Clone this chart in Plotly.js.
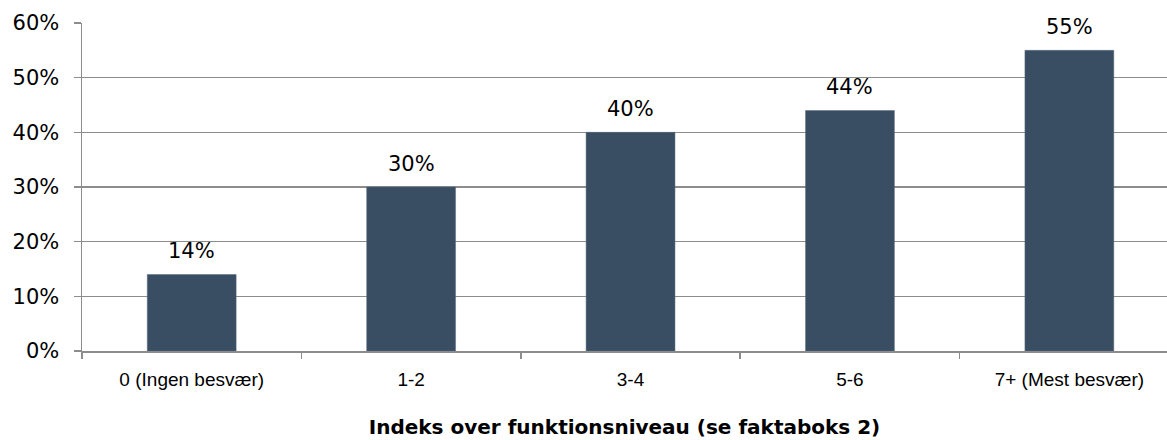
<!DOCTYPE html>
<html>
<head>
<meta charset="utf-8">
<script src="https://cdn.plot.ly/plotly-3.0.1.min.js"></script>
<style>html,body{margin:0;padding:0;background:#fff;}#chart{width:1167px;height:440px;}</style>
</head>
<body>
<div id="chart"></div>
<script>
const categories = ["0 (Ingen besvær)", "1-2", "3-4", "5-6", "7+ (Mest besvær)"];
const values = [0.14, 0.30, 0.40, 0.44, 0.55];
const valueLabels = ["14%", "30%", "40%", "44%", "55%"];
const yTickValues = [0, 0.1, 0.2, 0.3, 0.4, 0.5, 0.6];
const yTickLabels = ["0%", "10%", "20%", "30%", "40%", "50%", "60%"];
const xTitle = "Indeks over funktionsniveau (se faktaboks 2)";

const trace = {
  type: "bar",
  x: categories,
  y: values,
  width: 0.405,
  marker: {color: "#394E63", line: {color: "#5a6b7c", width: 0.5}},
  hoverinfo: "none"
};

const annotations = categories.map((c, i) => ({
  x: c, y: values[i], xref: "x", yref: "y",
  text: valueLabels[i], showarrow: false,
  yanchor: "bottom", yshift: 9,
  font: {family: "DejaVu Sans", size: 21, color: "#000"}
}));

const layout = {
  width: 1167, height: 440,
  margin: {l: 82, r: 0, t: 23, b: 89},
  paper_bgcolor: "#fff", plot_bgcolor: "#fff",
  showlegend: false,
  xaxis: {
    type: "category",
    range: [-0.5, 4.445],
    showgrid: false,
    showline: true, linecolor: "#8c8c8c", linewidth: 1.5,
    ticks: "outside", tickson: "boundaries", ticklen: 6, tickcolor: "#8c8c8c", tickwidth: 1.5,
    tickfont: {family: "Liberation Sans", size: 19, color: "#000"},
    ticklabelstandoff: 11,
    title: {text: "<b>" + xTitle + "</b>", font: {family: "DejaVu Sans", size: 20, color: "#000"}, standoff: 30},
    fixedrange: true
  },
  yaxis: {
    range: [0, 0.6],
    tickvals: yTickValues, ticktext: yTickLabels,
    showgrid: true, gridcolor: "#8c8c8c", gridwidth: 1.5,
    showline: true, linecolor: "#8c8c8c", linewidth: 1.5,
    ticks: "outside", ticklen: 7, tickcolor: "#8c8c8c", tickwidth: 1.5,
    tickfont: {family: "DejaVu Sans", size: 21, color: "#000"},
    ticklabelstandoff: 10,
    zeroline: false,
    fixedrange: true
  },
  annotations: annotations
};

Plotly.newPlot("chart", [trace], layout, {staticPlot: true, displayModeBar: false});
</script>
</body>
</html>
